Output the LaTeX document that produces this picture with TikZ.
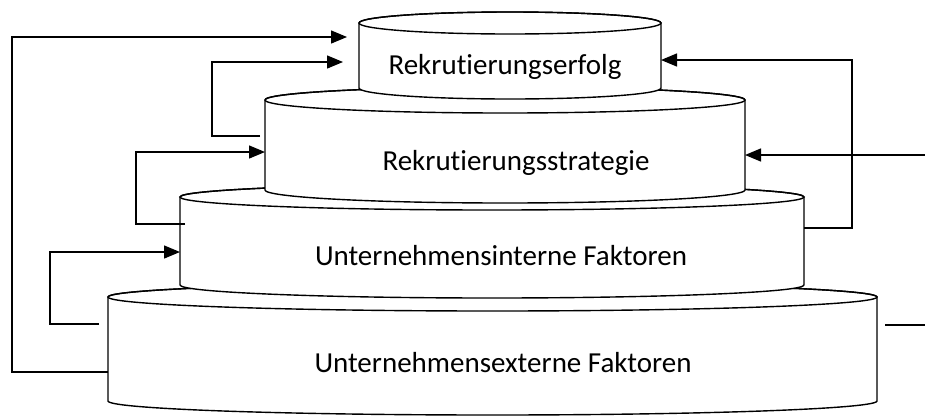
\documentclass[tikz,border=0pt]{standalone}
\usepackage{fontspec}
\setmainfont{Carlito}[Ligatures=NoCommon]
\usetikzlibrary{arrows.meta}
\begin{document}
\begin{tikzpicture}[x=1pt,y=1pt,line width=1.4pt,
  lbl/.style={anchor=base,inner sep=0pt,font=\fontsize{29}{35}\selectfont},
  arr/.style={-{Triangle[length=16pt,width=13pt]}},
  cylbody/.style={fill=white,draw=black,line join=round}]
\useasboundingbox (0,0) rectangle (925,-416);
% cylinder macro: xl, xr, ytop, ybot, ry
\newcommand{\mycyl}[5]{%
  \pgfmathsetmacro{\rxx}{(#2-#1)/2}%
  \pgfmathsetmacro{\cxx}{(#2+#1)/2}%
  \filldraw[cylbody] (#1,-#3) -- (#1,-#4)
     arc[start angle=180,end angle=360,x radius=\rxx,y radius=#5]
     -- (#2,-#3)
     arc[start angle=0,end angle=180,x radius=\rxx,y radius=#5] -- cycle;
  \draw (\cxx,-#3) ellipse[x radius=\rxx,y radius=#5];}
\mycyl{108}{877}{297}{401}{14}
\mycyl{180}{804}{197}{285}{13}
\mycyl{265}{745}{100}{190}{13}
\mycyl{359}{661}{23}{88}{11}
\node[lbl] (t1) at (505,-74) {Rekrutierungserfolg};
\node[lbl] (t2) at (516,-170) {Rekrutierungsstrategie};
\node[lbl] (t3) at (501,-265) {Unternehmensinterne Faktoren};
\node[lbl] (t4) at (503,-372) {Unternehmensexterne Faktoren};
% connector ends
\coordinate (a1s) at (108,-372); \coordinate (a1e) at (347,-37);
\coordinate (a2s) at (260,-136); \coordinate (a2e) at (343,-62);
\coordinate (a3s) at (185,-224); \coordinate (a3e) at (265,-152);
\coordinate (a4s) at (99,-324);  \coordinate (a4e) at (180,-252);
\coordinate (a5s) at (804,-228); \coordinate (a5e) at (661,-60);
\coordinate (a6s) at (925,-155); \coordinate (a6e) at (745,-155);
\coordinate (a7s) at (885,-325); \coordinate (a7e) at (925,-325);
\draw[arr] (a1s) -- (12,-372) |- (a1e);
\draw[arr] (a2s) -- (212,-136) |- (a2e);
\draw[arr] (a3s) -- (136,-224) |- (a3e);
\draw[arr] (a4s) -- (50,-324) |- (a4e);
\draw[arr] (a5s) -- (852,-228) |- (a5e);
\draw[arr] (a6s) -- (a6e);
\draw (a7s) -- (a7e);
\end{tikzpicture}
\end{document}
